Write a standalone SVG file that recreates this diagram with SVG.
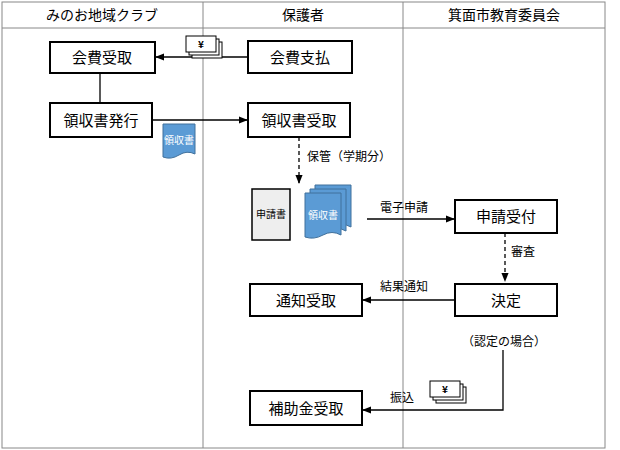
<svg xmlns="http://www.w3.org/2000/svg" width="620" height="450" viewBox="0 0 620 450">
<style>
text{font-family:"Noto Sans CJK JP","Liberation Sans",sans-serif;fill:#000}
.h{font-size:14px;text-anchor:middle}
.b{fill:#fff;stroke:#000;stroke-width:2}
.t{font-size:15px;text-anchor:middle}
.l{font-size:12px}
.c{fill:none;stroke:#000;stroke-width:1.3}
.d{stroke-dasharray:4 3}
.doc{fill:#5b9bd5;stroke:#41719c;stroke-width:1}
.dt{font-size:10px;fill:#fff;text-anchor:middle}
.y{fill:#fff;stroke:#000;stroke-width:1}
</style>
<defs>
<marker id="a" viewBox="0 0 10 10" refX="9" refY="5" markerWidth="7" markerHeight="7" orient="auto"><path d="M0,1 L10,5 L0,9z" fill="#000"/></marker>
<g id="yen"><rect class="y" x="6" y="6" width="30" height="16"/><rect class="y" x="3" y="3" width="30" height="16"/><rect class="y" x="0" y="0" width="30" height="16"/><text x="15" y="12" style="font-size:10px;text-anchor:middle;font-weight:bold">¥</text></g>
<path id="wave" d="M0,0 H32 V30 Q24,26 16,31 Q8,36 0,33 Z"/>
<path id="wave2" d="M0,0 H36 V42 Q27,37 18,42 Q9,47 0,44 Z"/>
</defs>
<g id="frame" fill="none" stroke="#888" stroke-width="1">
<rect x="2" y="2" width="603" height="446"/>
<line x1="2" y1="28" x2="605" y2="28"/>
<line x1="203" y1="2" x2="203" y2="448"/>
<line x1="403" y1="2" x2="403" y2="448"/>
</g>
<g id="headers">
<text class="h" x="102" y="20">みのお地域クラブ</text>
<text class="h" x="303" y="20">保護者</text>
<text class="h" x="504" y="20">箕面市教育委員会</text>
</g>
<g id="connectors">
<line class="c" x1="248" y1="57" x2="156" y2="57" marker-end="url(#a)"/>
<line class="c" x1="100" y1="73" x2="100" y2="103"/>
<line class="c" x1="152" y1="120" x2="247" y2="120" marker-end="url(#a)"/>
<line class="c d" x1="299" y1="137" x2="299" y2="183" marker-end="url(#a)"/>
<line class="c" x1="367" y1="219" x2="454" y2="219" marker-end="url(#a)"/>
<line class="c d" x1="505" y1="233" x2="505" y2="281" marker-end="url(#a)"/>
<line class="c" x1="455" y1="300" x2="363" y2="300" marker-end="url(#a)"/>
<polyline class="c" points="503,350 503,410 363,410" marker-end="url(#a)"/>
<text class="l" x="307" y="161">保管（学期分）</text>
<text class="l" x="380" y="212">電子申請</text>
<text class="l" x="511" y="256">審査</text>
<text class="l" x="380" y="291">結果通知</text>
<text class="l" x="390" y="402">振込</text>
</g>
<g id="n1"><rect class="b" x="50" y="42" width="105" height="31"/><text class="t" x="102" y="63">会費受取</text></g>
<g id="n2"><rect class="b" x="248" y="41" width="104" height="32"/><text class="t" x="300" y="63">会費支払</text></g>
<g id="n3"><rect class="b" x="50" y="103" width="102" height="34"/><text class="t" x="101" y="126">領収書発行</text></g>
<g id="n4"><rect class="b" x="248" y="103" width="102" height="34"/><text class="t" x="299" y="126">領収書受取</text></g>
<g id="n5"><rect class="b" x="455" y="200" width="102" height="33"/><text class="t" x="506" y="222">申請受付</text></g>
<g id="n6"><rect class="b" x="455" y="284" width="102" height="32"/><text class="t" x="506" y="306">決定</text></g>
<g id="n7"><rect class="b" x="250" y="284" width="112" height="32"/><text class="t" x="306" y="306">通知受取</text></g>
<g id="n8"><rect class="b" x="250" y="391" width="112" height="34"/><text class="t" x="306" y="414">補助金受取</text></g>
<g id="note"><text class="l" x="504" y="346" text-anchor="middle">（認定の場合）</text></g>
<g id="doc1"><use href="#wave" class="doc" x="163" y="124"/><text class="dt" x="179" y="144">領収書</text></g>
<g id="app"><rect x="252" y="189" width="38" height="51" fill="#eee" stroke="#000" stroke-width="1.5"/><text x="271" y="218" style="font-size:10px;text-anchor:middle">申請書</text></g>
<g id="docs">
<use href="#wave2" class="doc" x="315" y="185"/>
<use href="#wave2" class="doc" x="310" y="189"/>
<use href="#wave2" class="doc" x="305" y="193"/>
<text class="dt" x="323" y="219">領収書</text></g>
<use href="#yen" x="186" y="36"/>
<use href="#yen" x="430" y="381"/>
</svg>
